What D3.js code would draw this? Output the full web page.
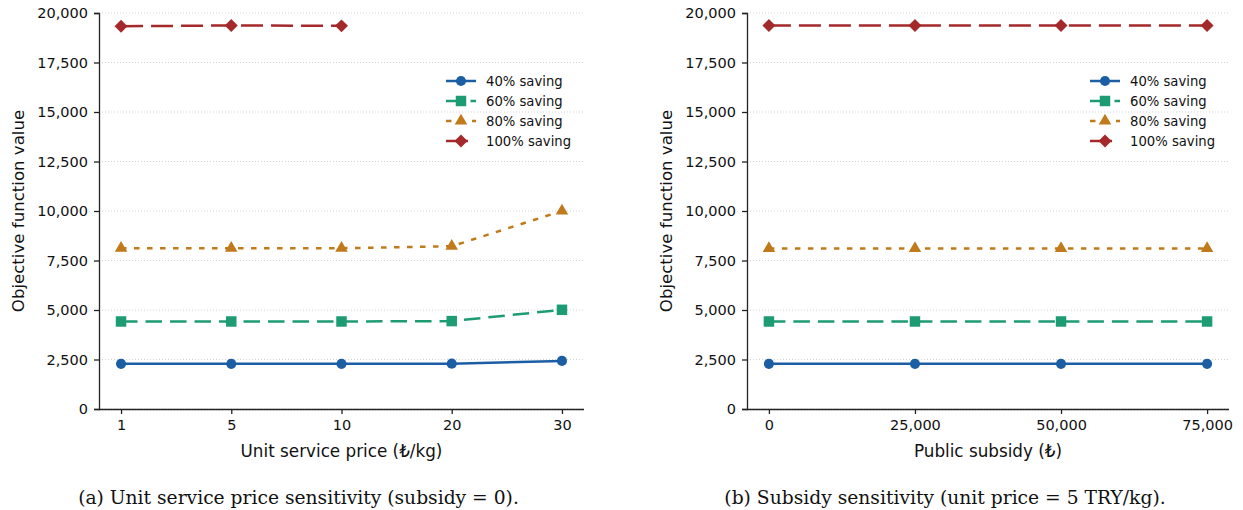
<!DOCTYPE html>
<html>
<head>
<meta charset="utf-8">
<script src="https://cdn.jsdelivr.net/npm/d3@7"></script>
<style>
  body { margin: 0; background: #fff; }
  svg text { font-family: "DejaVu Sans", sans-serif; fill: #111; }
</style>
</head>
<body>
<div id="chart"></div>
<script>
// Data
const priceLabels = ["1", "5", "10", "20", "30"];
const subsidyValues = [0, 25000, 50000, 75000];
const seriesNames = ["40% saving", "60% saving", "80% saving", "100% saving"];

// panel (a): unit service price sensitivity
const priceSaving40 = [2280, 2280, 2280, 2290, 2430];
const priceSaving60 = [4420, 4420, 4420, 4440, 5010];
const priceSaving80 = [8120, 8120, 8120, 8220, 10000];
const priceSaving100 = [19330, 19370, 19350];

// panel (b): subsidy sensitivity
const subsidySaving40 = [2280, 2280, 2280, 2280];
const subsidySaving60 = [4420, 4420, 4420, 4420];
const subsidySaving80 = [8110, 8110, 8110, 8110];
const subsidySaving100 = [19370, 19370, 19370, 19370];

const yTicks = d3.range(0, 20001, 2500);

const styles = [
  { color: "#1c5ea3", dash: null, marker: "circle", size: 80, rot: 0 },
  { color: "#1d9c73", dash: "16.5,8", marker: "square", size: 110, rot: 0 },
  { color: "#c07a1c", dash: "5.5,7.5", marker: "triangle", size: 68, rot: 0 },
  { color: "#a3292b", dash: "22,8", marker: "square", size: 84, rot: 45 }
];

const symbolTypes = {
  circle: d3.symbolCircle,
  square: d3.symbolSquare,
  triangle: d3.symbolTriangle
};

const svg = d3.select("#chart").append("svg")
  .attr("width", 1243)
  .attr("height", 510);

function drawPanel(opts) {
  const { left, right, top, bottom, xScale, xVals, xTickVals, xTickFormat, series, xLabel, caption, legendX } = opts;

  const y = d3.scaleLinear().domain([0, 20000]).range([bottom, top]);
  const g = svg.append("g");

  // horizontal dotted grid
  g.selectAll(".grid")
    .data(yTicks)
    .enter().append("line")
    .attr("x1", left).attr("x2", right)
    .attr("y1", d => y(d)).attr("y2", d => y(d))
    .attr("stroke", "#c8c8c8")
    .attr("stroke-width", 0.8)
    .attr("stroke-dasharray", "1,2");

  // series
  series.forEach((vals, i) => {
    const st = styles[i];
    const pts = vals.map((v, j) => [xScale(xVals[j]), y(v)]);
    g.append("path")
      .attr("d", d3.line()(pts))
      .attr("fill", "none")
      .attr("stroke", st.color)
      .attr("stroke-width", 2.5)
      .attr("stroke-dasharray", st.dash);
    g.selectAll(".m" + i)
      .data(pts)
      .enter().append("path")
      .attr("transform", d => `translate(${d[0]},${d[1]}) rotate(${st.rot})`)
      .attr("d", d3.symbol().type(symbolTypes[st.marker]).size(st.size))
      .attr("fill", st.color);
  });

  // axes
  const yAxis = d3.axisLeft(y).tickValues(yTicks).tickFormat(d3.format(",")).tickSizeOuter(0).tickSize(5).tickPadding(6);
  g.append("g").attr("transform", `translate(${left},0)`).call(yAxis);

  const xAxis = d3.axisBottom(xScale).tickValues(xTickVals).tickFormat(xTickFormat).tickSizeOuter(0).tickSize(5).tickPadding(6);
  const xg = g.append("g").attr("transform", `translate(0,${bottom})`).call(xAxis);
  xg.select(".domain").attr("d", `M${left},0.5H${right}`);

  g.selectAll(".tick text").style("font-size", "14.5px").attr("fill", "#111");
  g.selectAll(".domain").attr("stroke", "#222").attr("stroke-width", 1.3);
  g.selectAll(".tick line").attr("stroke", "#222").attr("stroke-width", 1.3);

  // axis labels
  g.append("text")
    .attr("transform", `translate(${left - 81},${(top + bottom) / 2}) rotate(-90)`)
    .attr("text-anchor", "middle")
    .attr("dominant-baseline", "central")
    .style("font-size", "16.6px")
    .text("Objective function value");

  g.append("text")
    .attr("x", (left + right) / 2)
    .attr("y", bottom + 42)
    .attr("text-anchor", "middle")
    .attr("dominant-baseline", "central")
    .style("font-size", "16.8px")
    .text(xLabel);

  g.append("text")
    .attr("x", (left + right) / 2 - 43)
    .attr("y", bottom + 88)
    .attr("text-anchor", "middle")
    .attr("dominant-baseline", "central")
    .style("font-family", "'DejaVu Serif', serif")
    .style("font-size", "18.7px")
    .text(caption);

  // legend
  seriesNames.forEach((name, i) => {
    const st = styles[i];
    const ly = 81 + i * 20;
    g.append("line")
      .attr("x1", legendX).attr("x2", legendX + 30)
      .attr("y1", ly).attr("y2", ly)
      .attr("stroke", st.color)
      .attr("stroke-width", 2.5)
      .attr("stroke-dasharray", st.dash);
    g.append("path")
      .attr("transform", `translate(${legendX + 15},${ly}) rotate(${st.rot})`)
      .attr("d", d3.symbol().type(symbolTypes[st.marker]).size(st.size))
      .attr("fill", st.color);
    g.append("text")
      .attr("x", legendX + 40)
      .attr("y", ly)
      .attr("dominant-baseline", "central")
      .style("font-size", "13.2px")
      .text(name);
  });
}

// panel (a): categorical positions with matplotlib-like 5% margin
const idx = d3.range(priceLabels.length);
const xA = d3.scaleLinear().domain([-0.2, 4.2]).range([99, 584]);
drawPanel({
  left: 99, right: 584, top: 13, bottom: 409,
  xScale: xA,
  xVals: idx,
  xTickVals: idx,
  xTickFormat: i => priceLabels[i],
  series: [priceSaving40, priceSaving60, priceSaving80, priceSaving100],
  xLabel: "Unit service price (₺/kg)",
  caption: "(a) Unit service price sensitivity (subsidy = 0).",
  legendX: 446
});

// panel (b): subsidy sensitivity
const xB = d3.scaleLinear().domain([-3750, 78750]).range([747, 1229]);
drawPanel({
  left: 747, right: 1229, top: 13, bottom: 409,
  xScale: xB,
  xVals: subsidyValues,
  xTickVals: subsidyValues,
  xTickFormat: d3.format(","),
  series: [subsidySaving40, subsidySaving60, subsidySaving80, subsidySaving100],
  xLabel: "Public subsidy (₺)",
  caption: "(b) Subsidy sensitivity (unit price = 5 TRY/kg).",
  legendX: 1090
});
</script>
</body>
</html>
